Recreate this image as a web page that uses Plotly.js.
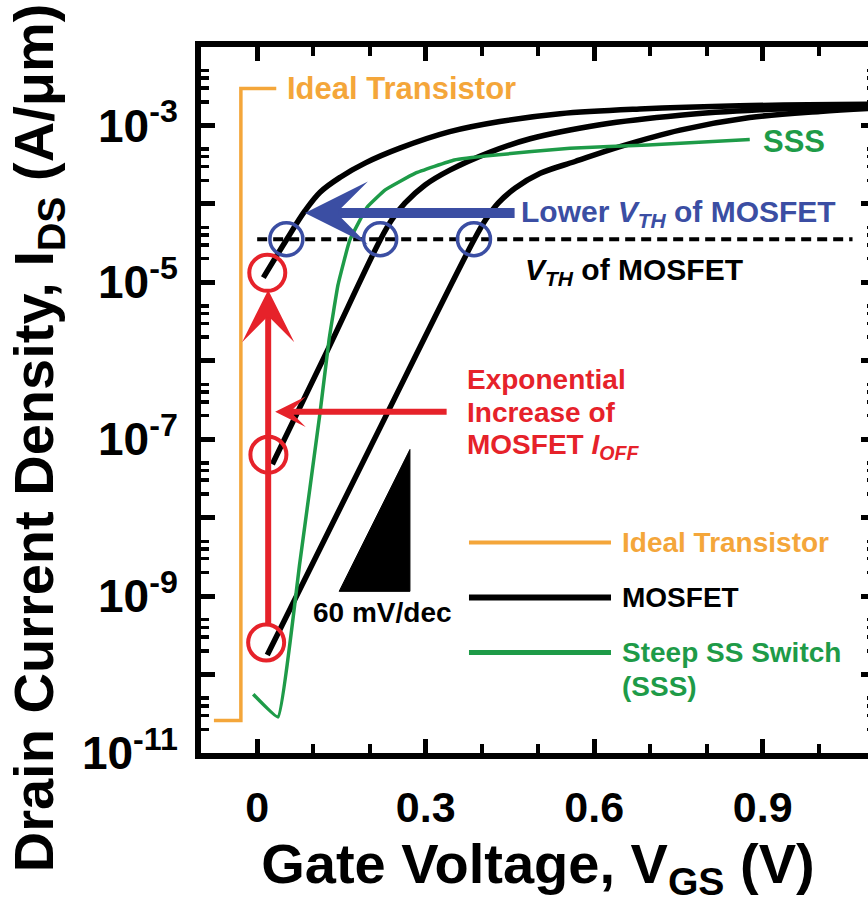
<!DOCTYPE html>
<html><head><meta charset="utf-8">
<script src="https://cdn.plot.ly/plotly-3.0.1.min.js"></script>
<style>html,body{margin:0;padding:0;overflow:hidden;background:#fff}#chart{width:880px;height:903px}</style>
</head><body><div id="chart"></div>
<script>
// ---------- data (V in volts, I in A/um) ----------
const idealV = [-0.077, -0.029, -0.029, 0.034];
const idealI = [2.6e-11, 2.6e-11, 2.95e-3, 2.95e-3];

const mosA_V = [0.011, 0.052, 0.085, 0.112, 0.148, 0.192, 0.254, 0.343, 0.432, 0.539, 0.681, 0.859, 1.10];
const mosA_I = [1.15e-5, 3.47e-5, 8.13e-5, 1.41e-4, 2.19e-4, 3.31e-4, 5.13e-4, 8.32e-4, 1.12e-3, 1.41e-3, 1.62e-3, 1.78e-3, 1.86e-3];

const mosB_V = [0.027, 0.123, 0.219, 0.240, 0.263, 0.299, 0.343, 0.415, 0.486, 0.610, 0.753, 0.895, 1.10];
const mosB_I = [4.79e-8, 1.26e-6, 3.47e-5, 6.31e-5, 1.02e-4, 1.74e-4, 2.69e-4, 4.57e-4, 6.76e-4, 1.02e-3, 1.35e-3, 1.58e-3, 1.78e-3];

const mosC_V = [0.018, 0.201, 0.386, 0.407, 0.429, 0.459, 0.504, 0.566, 0.646, 0.753, 0.877, 1.002, 1.10];
const mosC_I = [1.78e-10, 7.76e-8, 3.47e-5, 6.31e-5, 1.02e-4, 1.58e-4, 2.45e-4, 3.47e-4, 5.37e-4, 8.71e-4, 1.26e-3, 1.51e-3, 1.66e-3];

const sssV = [-0.007, 0.037, 0.076, 0.112, 0.128, 0.144, 0.165, 0.196, 0.228, 0.281, 0.351, 0.420, 0.557, 0.696, 0.877];
const sssI = [5.62e-11, 2.88e-11, 2.69e-9, 2.19e-7, 1.86e-6, 9.33e-6, 3.47e-5, 9.12e-5, 1.51e-4, 2.45e-4, 3.63e-4, 4.17e-4, 5.13e-4, 5.62e-4, 6.61e-4];

const vthLineV = [0.0, 1.06];
const vthLineI = [3.55e-5, 3.55e-5];

const blueCircV = [0.052, 0.219, 0.386];
const blueCircI = [3.55e-5, 3.55e-5, 3.55e-5];

const redCircV = [0.018, 0.020, 0.016];
const redCircI = [1.32e-5, 6.35e-8, 2.56e-10];

const slopeV = [0.146, 0.272, 0.272, 0.146];
const slopeI = [1.15e-9, 1.15e-9, 7.4e-8, 1.15e-9];

const xTickVals = [0, 0.3, 0.6, 0.9];
const xTickText = ['0', '0.3', '0.6', '0.9'];
const yDecades = [-11, -10, -9, -8, -7, -6, -5, -4, -3, -2];
const yTickText = ['10<sup>-11</sup>', '', '10<sup>-9</sup>', '', '10<sup>-7</sup>', '', '10<sup>-5</sup>', '', '10<sup>-3</sup>', ''];

// ---------- style ----------
const FONT = 'Liberation Sans, Arial, Helvetica, sans-serif';
const ORANGE = '#f4a63a', GREEN = '#1e9b48', BLUE = '#3b4ea3', RED = '#e6222a';

const yTickVals = yDecades.map(d => Math.pow(10, d));
const yMinor = [];
yDecades.slice(0, -1).forEach(d => [2, 3, 4, 5].forEach(m => yMinor.push(m * Math.pow(10, d))));
const L = v => Math.log10(v);

const blackLine = {color: '#000', width: 5.5, shape: 'spline', smoothing: 1.0};
const traces = [
  {x: slopeV, y: slopeI, mode: 'lines', fill: 'toself', fillcolor: '#000', line: {color: '#000', width: 1}, hoverinfo: 'skip'},
  {x: vthLineV, y: vthLineI, mode: 'lines', line: {color: '#000', width: 4, dash: '10px,6px'}},
  {x: idealV, y: idealI, mode: 'lines', line: {color: ORANGE, width: 3.5}, name: 'Ideal Transistor'},
  {x: mosA_V, y: mosA_I, mode: 'lines', line: blackLine, name: 'MOSFET'},
  {x: mosB_V, y: mosB_I, mode: 'lines', line: blackLine, name: 'MOSFET'},
  {x: mosC_V, y: mosC_I, mode: 'lines', line: blackLine, name: 'MOSFET'},
  {x: sssV, y: sssI, mode: 'lines', line: {color: GREEN, width: 3.5, shape: 'spline', smoothing: 0.3}, name: 'Steep SS Switch (SSS)'},
  {x: blueCircV, y: blueCircI, mode: 'markers', marker: {symbol: 'circle-open', size: 33, color: BLUE, line: {width: 3.5, color: BLUE}}},
  {x: redCircV, y: redCircI, mode: 'markers', marker: {symbol: 'circle-open', size: 36, color: RED, line: {width: 4, color: RED}}}
];

const tf = (size, color) => ({family: FONT, size: size, color: color, weight: 700});
const txt = (x, y, text, size, color, xref, yref) => ({x: x, y: y, xref: xref || 'x', yref: yref || 'y', text: text, showarrow: false, xanchor: 'left', yanchor: 'middle', font: tf(size, color)});
const arrow = (x, y, ax, ay, color, w, s) => ({x: x, y: L(y), ax: ax, ay: L(ay), xref: 'x', yref: 'y', axref: 'x', ayref: 'y', text: '', showarrow: true, arrowhead: 3, arrowwidth: w, arrowsize: s, arrowcolor: color});

const annotations = [
  // y-axis title (placed as a rotated annotation for exact positioning)
  {x: -0.2425, y: 0.4466, xref: 'paper', yref: 'paper', text: 'Drain Current Density, I<sub>DS</sub> (A/μm)', textangle: -90, showarrow: false, xanchor: 'center', yanchor: 'middle', font: tf(56, '#000')},
  txt(0.050, L(3.0e-3), 'Ideal Transistor', 31, ORANGE),
  txt(0.897, L(6.3e-4), 'SSS', 31, GREEN),
  txt(0.466, L(7.5e-5), 'Lower <i>V<sub>TH</sub></i> of MOSFET', 30, BLUE),
  txt(0.473, L(1.36e-5), '<i>V<sub>TH</sub></i> of MOSFET', 30, '#000'),
  txt(0.370, L(5.7e-7), 'Exponential', 28, RED),
  txt(0.370, L(2.2e-7), 'Increase of', 28, RED),
  txt(0.370, L(8.0e-8), 'MOSFET <i>I<sub>OFF</sub></i>', 28, RED),
  txt(0.096, L(6.2e-10), '60 mV/dec', 28, '#000'),
  txt(0.6217, 0.298, 'Ideal Transistor', 28, ORANGE, 'paper', 'paper'),
  txt(0.6217, 0.2204, 'MOSFET', 28, '#000', 'paper', 'paper'),
  txt(0.6217, 0.1423, 'Steep SS Switch', 28, GREEN, 'paper', 'paper'),
  txt(0.6217, 0.0942, '(SSS)', 28, GREEN, 'paper', 'paper'),
  arrow(0.085, 7.67e-5, 0.461, 7.67e-5, BLUE, 10, 1.05),
  arrow(0.0196, 8.0e-6, 0.0196, 4.3e-10, RED, 6, 1.45),
  arrow(0.032, 2.24e-7, 0.340, 2.24e-7, RED, 6, 0.85)
];

const legLine = (y, color, w) => ({type: 'line', xref: 'paper', yref: 'paper', x0: 0.3976, x1: 0.6083, y0: y, y1: y, line: {color: color, width: w}});
const shapes = [legLine(0.298, ORANGE, 4), legLine(0.2204, '#000', 6), legLine(0.1423, GREEN, 5)];

const layout = {
  width: 880, height: 903,
  margin: {l: 201, r: 5, t: 47, b: 150},
  paper_bgcolor: '#fff', plot_bgcolor: '#fff',
  showlegend: false,
  font: {family: FONT, color: '#000'},
  xaxis: {
    range: [-0.1, 1.1], tickmode: 'array', tickvals: xTickVals, ticktext: xTickText,
    ticks: 'inside', ticklen: 14, tickwidth: 5, tickcolor: '#000',
    minor: {dtick: 0.1, tick0: 0, ticks: 'inside', ticklen: 9, tickwidth: 4, tickcolor: '#000'},
    showline: true, linewidth: 6, linecolor: '#000', mirror: 'allticks',
    showgrid: false, zeroline: false, ticklabelstandoff: 11,
    tickfont: tf(43, '#000'),
    title: {text: 'Gate Voltage, V<sub>GS</sub> (V)', font: tf(56, '#000'), standoff: 18}
  },
  yaxis: {
    type: 'log', range: [-11, -2], tickmode: 'array', tickvals: yTickVals, ticktext: yTickText,
    ticks: 'inside', ticklen: 14, tickwidth: 5, tickcolor: '#000',
    minor: {tickmode: 'array', tickvals: yMinor, ticks: 'inside', ticklen: 8, tickwidth: 3.5, tickcolor: '#000'},
    showline: true, linewidth: 6, linecolor: '#000', mirror: 'allticks',
    showgrid: false, zeroline: false, ticklabelstandoff: 8,
    tickfont: tf(46, '#000')
  },
  annotations: annotations,
  shapes: shapes
};

Plotly.newPlot('chart', traces, layout, {displayModeBar: false, staticPlot: true});
</script></body></html>
